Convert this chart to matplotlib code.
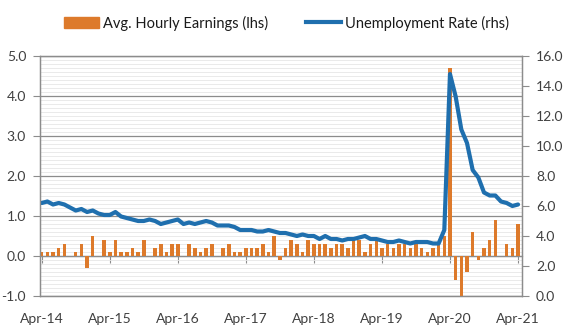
import matplotlib
matplotlib.use('Agg')
import matplotlib.pyplot as plt
from matplotlib.ticker import MultipleLocator, FormatStrFormatter
from matplotlib.patches import Patch
from matplotlib.lines import Line2D
import numpy as np

# monthly data, Apr-14 .. Apr-21
earnings = [0.1, 0.1, 0.1, 0.2, 0.3, 0.0, 0.1, 0.3, -0.3, 0.5,
            0.0, 0.4, 0.1, 0.4, 0.1, 0.1, 0.2, 0.1, 0.4, 0.0,
            0.2, 0.3, 0.1, 0.3, 0.3, 0.0, 0.3, 0.2, 0.1, 0.2,
            0.3, 0.0, 0.2, 0.3, 0.1, 0.1, 0.2, 0.2, 0.2, 0.3,
            0.1, 0.5, -0.1, 0.2, 0.4, 0.3, 0.1, 0.4, 0.3, 0.3,
            0.3, 0.2, 0.3, 0.3, 0.2, 0.4, 0.4, 0.1, 0.3, 0.4,
            0.2, 0.3, 0.2, 0.3, 0.3, 0.2, 0.3, 0.2, 0.1, 0.2,
            0.3, 0.5, 4.7, -0.6, -1.0, -0.4, 0.6, -0.1, 0.2, 0.4,
            0.9, 0.0, 0.3, 0.2, 0.8]

unemployment = [6.2, 6.3, 6.1, 6.2, 6.1, 5.9, 5.7, 5.8, 5.6,
                5.7, 5.5, 5.4, 5.4, 5.6, 5.3, 5.2, 5.1, 5.0, 5.0, 5.1, 5.0,
                4.8, 4.9, 5.0, 5.1, 4.8, 4.9, 4.8, 4.9, 5.0, 4.9, 4.7, 4.7,
                4.7, 4.6, 4.4, 4.4, 4.4, 4.3, 4.3, 4.4, 4.3, 4.2, 4.2, 4.1,
                4.0, 4.1, 4.0, 4.0, 3.8, 4.0, 3.8, 3.8, 3.7, 3.8, 3.8, 3.9,
                4.0, 3.8, 3.8, 3.7, 3.6, 3.6, 3.7, 3.6, 3.5, 3.6, 3.6, 3.6,
                3.5, 3.5, 4.4, 14.8, 13.3, 11.1, 10.2, 8.4, 7.9, 6.9, 6.7, 6.7,
                6.3, 6.2, 6.0, 6.1]

year_labels = ['Apr-14', 'Apr-15', 'Apr-16', 'Apr-17', 'Apr-18', 'Apr-19', 'Apr-20', 'Apr-21']

orange = '#DD7A2B'
blue = '#1F6FAE'
grey = '#8C8C8C'
txt = '#404040'

plt.rcParams['font.family'] = ['Lato', 'DejaVu Sans']

months = np.arange(len(earnings))
tick_pos = months[::12]

fig = plt.figure(figsize=(5.64, 3.36), dpi=100)
ax = fig.add_axes([40 / 564, 1 - 296 / 336, 482 / 564, 240 / 336])

ax.bar(months, earnings, width=0.62, color=orange, zorder=3)
ax.set_ylim(-1, 5)
ax.set_xlim(-0.3, 84.7)
ax.yaxis.set_major_locator(MultipleLocator(1))
ax.yaxis.set_minor_locator(MultipleLocator(0.1))
ax.yaxis.set_major_formatter(FormatStrFormatter('%.1f'))
ax.grid(axis='y', which='major', color=grey, lw=0.9, zorder=1)
ax.grid(axis='y', which='minor', color='#E6E6E6', lw=0.6, zorder=0)
ax.tick_params(axis='y', which='major', direction='out', length=5, color=grey,
               labelsize=10, labelcolor=txt, pad=5)
ax.tick_params(axis='y', which='minor', length=0)
ax.set_xticks(tick_pos)
ax.set_xticklabels(year_labels)
ax.tick_params(axis='x', length=0, labelsize=10, labelcolor=txt, pad=12)
for s in ax.spines.values():
    s.set_color(grey)
    s.set_linewidth(0.9)

# zero line with the year tick marks
sec = ax.secondary_xaxis(1 / 6)
sec.set_xticks(tick_pos)
sec.tick_params(axis='x', direction='out', length=5, color=grey, labelbottom=False, labeltop=False)
for s in sec.spines.values():
    s.set_color(grey)
    s.set_linewidth(0.9)

ax2 = ax.twinx()
ax2.plot(months, unemployment, color=blue, lw=3, solid_capstyle='round', solid_joinstyle='round')
ax2.set_ylim(0, 16)
ax2.yaxis.set_major_locator(MultipleLocator(2))
ax2.yaxis.set_major_formatter(FormatStrFormatter('%.1f'))
ax2.tick_params(axis='y', direction='out', length=5, color=grey, labelsize=10, labelcolor=txt, pad=5)
for s in ax2.spines.values():
    s.set_color(grey)
    s.set_linewidth(0.9)

handles = [Patch(color=orange), Line2D([], [], color=blue, lw=3)]
leg = fig.legend(handles, ['Avg. Hourly Earnings (lhs)', 'Unemployment Rate (rhs)'],
                 loc='center', bbox_to_anchor=(0.508, 1 - 23 / 336), ncol=2, frameon=False,
                 fontsize=10.5, handlelength=2.4, handleheight=0.7, handletextpad=0.3,
                 columnspacing=2.6)
for t in leg.get_texts():
    t.set_color('#1A1A1A')

fig.savefig('out.png', dpi=100)
